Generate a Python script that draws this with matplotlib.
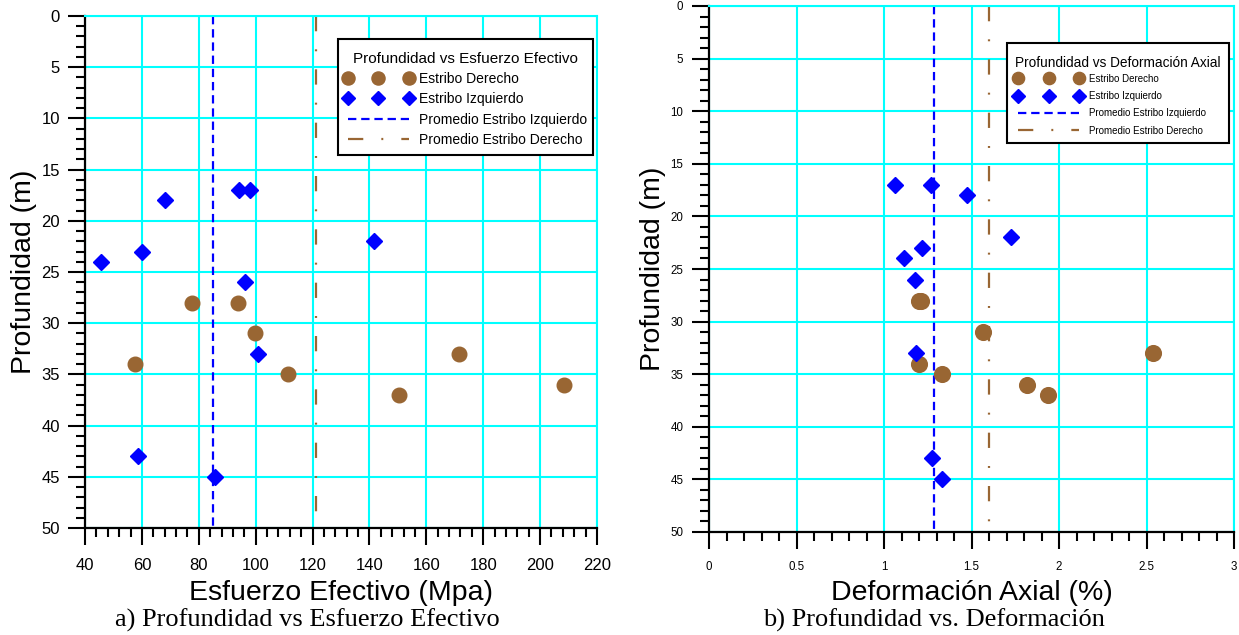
import matplotlib
matplotlib.use("Agg")
import matplotlib.pyplot as plt
from matplotlib.ticker import MultipleLocator
from matplotlib.patches import Rectangle
import numpy as np

plt.rcParams['font.family'] = ['Liberation Sans', 'DejaVu Sans']
plt.rcParams['lines.scale_dashes'] = False

# ---------------- data ----------------
# Panel a) Esfuerzo efectivo (Mpa) vs profundidad (m)
izq_esf = [68.3, 94.0, 97.9, 45.6, 60.0, 141.5, 96.2, 100.8, 58.6, 85.6]
izq_esf_prof = [18, 17, 17, 24, 23, 22, 26, 33, 43, 45]
der_esf = [77.7, 93.7, 99.7, 57.7, 111.2, 171.6, 150.3, 208.5]
der_esf_prof = [28, 28, 31, 34, 35, 33, 37, 36]

# Panel b) Deformacion axial (%) vs profundidad (m)
izq_def = [1.065, 1.268, 1.473, 1.727, 1.216, 1.115, 1.178, 1.182, 1.275, 1.333]
izq_def_prof = [17, 17, 18, 22, 23, 24, 26, 33, 43, 45]
der_def = [1.198, 1.214, 1.565, 1.200, 1.333, 2.538, 1.815, 1.937]
der_def_prof = [28, 28, 31, 34, 35, 33, 36, 37]

# Promedios
prom_izq_esf = 85.0
prom_der_esf = 121.2
prom_izq_def = 1.284
prom_der_def = 1.600

x_ticks_a = [40, 60, 80, 100, 120, 140, 160, 180, 200, 220]
x_ticks_b = [0, 0.5, 1, 1.5, 2, 2.5, 3]
x_labels_b = ["0", "0.5", "1", "1.5", "2", "2.5", "3"]
y_ticks = [0, 5, 10, 15, 20, 25, 30, 35, 40, 45, 50]

BROWN = '#996633'
BLUE = '#0000FF'
CYAN = '#00FFFF'

W, H = 1239, 635
fig = plt.figure(figsize=(W / 100, H / 100), dpi=100)


def px_axes(x0, y0, x1, y1):
    return fig.add_axes([x0 / W, 1 - y1 / H, (x1 - x0) / W, (y1 - y0) / H])


def style(ax, xt, xlim, xminor, tick_fs, xlabels=None, pad_x=6, pad_y=6):
    ax.set_xlim(*xlim)
    ax.set_ylim(50, 0)
    ax.set_xticks(xt)
    if xlabels is not None:
        ax.set_xticklabels(xlabels)
    ax.xaxis.set_minor_locator(MultipleLocator(xminor))
    ax.set_yticks(y_ticks)
    ax.yaxis.set_minor_locator(MultipleLocator(1))
    ax.grid(True, which='major', color=CYAN, linewidth=1.5, zorder=0)
    ax.set_axisbelow(True)
    for s in ['top', 'right']:
        ax.spines[s].set_color(CYAN)
        ax.spines[s].set_linewidth(1.5)
    for s in ['left', 'bottom']:
        ax.spines[s].set_color('black')
        ax.spines[s].set_linewidth(1.6)
    ax.tick_params(which='major', direction='out', length=12, width=1.5,
                   labelsize=tick_fs, colors='black')
    ax.tick_params(axis='x', which='major', pad=pad_x)
    ax.tick_params(axis='y', which='major', pad=pad_y)
    ax.tick_params(which='minor', direction='out', length=6.5, width=1.5)
    ax.tick_params(top=False, right=False, which='both')


def framed(ax, leg, extra_top, extra_bottom):
    """Draw a square black frame around a frameless legend with extra
    vertical padding."""
    bb = leg.get_window_extent()
    inv = ax.transAxes.inverted()
    (x0, y0), (x1, y1) = inv.transform([[bb.x0, bb.y0 - extra_bottom],
                                        [bb.x1, bb.y1 + extra_top]])
    ax.add_patch(Rectangle((x0, y0), x1 - x0, y1 - y0, transform=ax.transAxes,
                           facecolor='white', edgecolor='black',
                           linewidth=1.5, zorder=5, clip_on=False))
    leg.set_zorder(6)


# ---------------- panel a ----------------
ax1 = px_axes(85, 16, 597, 528)
style(ax1, x_ticks_a, (40, 220), 4, 12, pad_x=9.5)
l_izq1, = ax1.plot([prom_izq_esf, prom_izq_esf], [0, 50], color=BLUE, lw=1.6,
                   dashes=(6, 3.5), label='Promedio Estribo Izquierdo', zorder=2)
l_der1, = ax1.plot([prom_der_esf, prom_der_esf], [0, 50], color=BROWN, lw=1.6,
                   dashes=(11, 13, 1.4, 13), label='Promedio Estribo Derecho', zorder=2)
h_der1, = ax1.plot(der_esf, der_esf_prof, 'o', color=BROWN, ms=10.5,
                   ls='none', label='Estribo Derecho', zorder=3)
h_izq1, = ax1.plot(izq_esf, izq_esf_prof, 'D', color=BLUE, ms=8,
                   ls='none', label='Estribo Izquierdo', zorder=4)
handles1 = [h_der1, h_izq1, l_izq1, l_der1]
leg1 = ax1.legend(handles=handles1, loc='upper right',
                  bbox_to_anchor=(0.992, 0.941), borderaxespad=0,
                  title='Profundidad vs Esfuerzo Efectivo', title_fontsize=11,
                  fontsize=10, numpoints=3, handlelength=5.0,
                  handletextpad=0.45, labelspacing=0.45, borderpad=0.4,
                  markerscale=0.9, frameon=False)
ax1.set_xlabel('Esfuerzo Efectivo (Mpa)', fontsize=20.5, labelpad=5)
ax1.set_ylabel('Profundidad (m)', fontsize=20.5, labelpad=3)

# ---------------- panel b ----------------
ax2 = px_axes(709, 6, 1234, 532)
style(ax2, x_ticks_b, (0, 3), 0.1, 8.3, xlabels=x_labels_b, pad_x=9, pad_y=6.5)
l_izq2, = ax2.plot([prom_izq_def, prom_izq_def], [0, 50], color=BLUE, lw=1.6,
                   dashes=(6, 3.5), label='Promedio Estribo Izquierdo', zorder=2)
l_der2, = ax2.plot([prom_der_def, prom_der_def], [0, 50], color=BROWN, lw=1.6,
                   dashes=(11, 13, 1.4, 13), label='Promedio Estribo Derecho', zorder=2)
h_der2, = ax2.plot(der_def, der_def_prof, 'o', color=BROWN, ms=11.3,
                   ls='none', label='Estribo Derecho', zorder=3)
h_izq2, = ax2.plot(izq_def, izq_def_prof, 'D', color=BLUE, ms=8.5,
                   ls='none', label='Estribo Izquierdo', zorder=4)
handles2 = [h_der2, h_izq2, l_izq2, l_der2]
leg2 = ax2.legend(handles=handles2, loc='upper right',
                  bbox_to_anchor=(0.990, 0.920), borderaxespad=0,
                  title='Profundidad vs Deformación Axial', title_fontsize=9.8,
                  fontsize=7, numpoints=3, handlelength=6.9,
                  handletextpad=0.7, labelspacing=0.75, borderpad=0.85,
                  markerscale=0.78, alignment='left', frameon=False)
try:
    leg2._legend_box.sep = 2.5   # tighter gap between title and entries
except Exception:
    pass
ax2.set_xlabel('Deformación Axial (%)', fontsize=20.5, labelpad=5)
ax2.set_ylabel('Profundidad (m)', fontsize=20.5, labelpad=3)

# ---------------- legend frames ----------------
fig.canvas.draw()
framed(ax1, leg1, 7, 3)
framed(ax2, leg2, 5, -1)

# ---------------- captions ----------------
fig.text(307 / W, 1 - 620 / H, 'a) Profundidad vs Esfuerzo Efectivo',
         ha='center', va='center', fontsize=19, family='Liberation Serif')
fig.text(934 / W, 1 - 620 / H, 'b) Profundidad vs. Deformación',
         ha='center', va='center', fontsize=19, family='Liberation Serif')

fig.savefig('out.png', dpi=100)
